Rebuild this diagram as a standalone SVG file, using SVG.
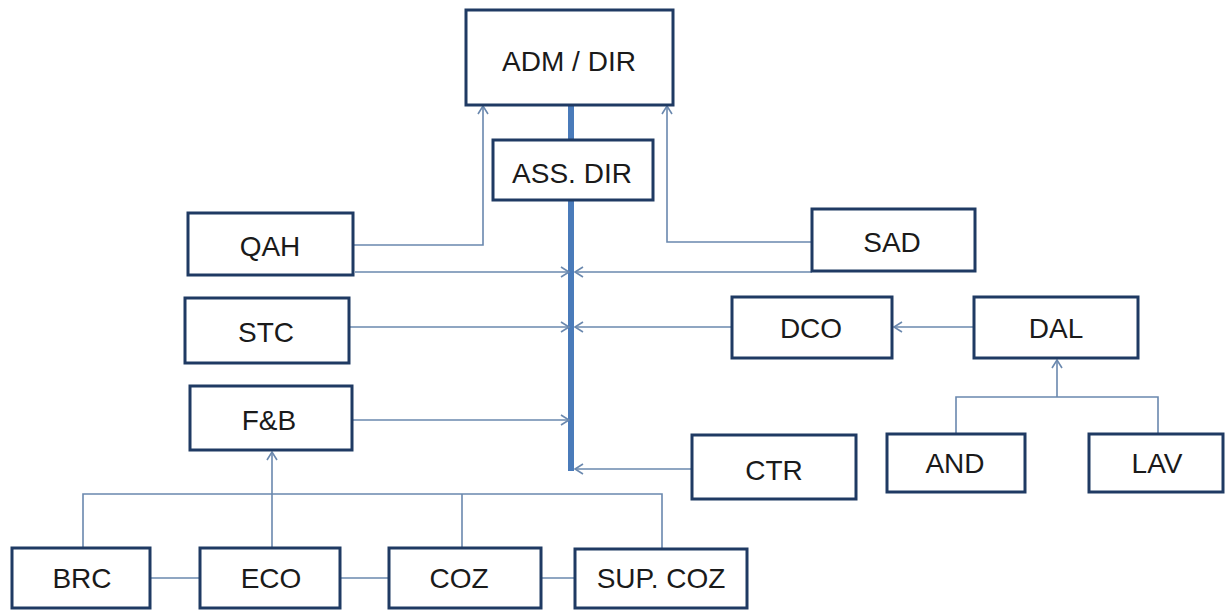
<svg xmlns="http://www.w3.org/2000/svg" width="1227" height="610" viewBox="0 0 1227 610">
<style>
.box{fill:#fff;stroke:#1F3A63;stroke-width:3}
.lbl{font-family:"Liberation Sans",Arial,sans-serif;font-size:28px;fill:#1a1a1a;text-anchor:middle}
.con{fill:none;stroke:#6A88AE;stroke-width:1.6}
.spine{stroke:#4A7BBA;stroke-width:6;fill:none}
</style>
<defs>
<marker id="arr" markerUnits="userSpaceOnUse" markerWidth="12" markerHeight="14" refX="9" refY="6" orient="auto" viewBox="0 0 12 12">
<path d="M1,1 L9,6 L1,11" fill="none" stroke="#6A88AE" stroke-width="1.6"/>
</marker>
</defs>
<rect width="1227" height="610" fill="#fff"/>
<g id="connectors">
<line class="spine" x1="571" y1="105" x2="571" y2="471"/>
<polyline class="con" points="353,245 483,245 483,106" marker-end="url(#arr)"/>
<polyline class="con" points="812,242 667,242 667,106" marker-end="url(#arr)"/>
<line class="con" x1="355" y1="272" x2="569" y2="272" marker-end="url(#arr)"/>
<line class="con" x1="812" y1="272" x2="575" y2="272" marker-end="url(#arr)"/>
<line class="con" x1="349" y1="327" x2="569" y2="327" marker-end="url(#arr)"/>
<line class="con" x1="732" y1="327" x2="575" y2="327" marker-end="url(#arr)"/>
<line class="con" x1="974" y1="327" x2="894" y2="327" marker-end="url(#arr)"/>
<line class="con" x1="352" y1="420" x2="569" y2="420" marker-end="url(#arr)"/>
<line class="con" x1="692" y1="469" x2="575" y2="469" marker-end="url(#arr)"/>
<path class="con" d="M956,434 V397 H1158 V434"/>
<line class="con" x1="1057" y1="397" x2="1057" y2="360" marker-end="url(#arr)"/>
<path class="con" d="M83,548 V494 H662 V549"/>
<line class="con" x1="462" y1="494" x2="462" y2="548"/>
<line class="con" x1="272" y1="548" x2="272" y2="452" marker-end="url(#arr)"/>
<line class="con" x1="150" y1="578" x2="200" y2="578"/>
<line class="con" x1="340" y1="578" x2="389" y2="578"/>
<line class="con" x1="541" y1="578" x2="575" y2="578"/>
</g>
<g id="adm"><rect class="box" x="466" y="10" width="207" height="95"/><text class="lbl" x="569" y="71">ADM / DIR</text></g>
<g id="assdir"><rect class="box" x="493" y="140" width="160" height="60"/><text class="lbl" x="572" y="183">ASS. DIR</text></g>
<g id="qah"><rect class="box" x="188" y="213" width="165" height="62"/><text class="lbl" x="270" y="256">QAH</text></g>
<g id="stc"><rect class="box" x="185" y="298" width="164" height="65"/><text class="lbl" x="266" y="342">STC</text></g>
<g id="fb"><rect class="box" x="190" y="386" width="162" height="64"/><text class="lbl" x="269" y="430">F&amp;B</text></g>
<g id="sad"><rect class="box" x="812" y="209" width="163" height="62"/><text class="lbl" x="892" y="252">SAD</text></g>
<g id="dco"><rect class="box" x="732" y="297" width="160" height="61"/><text class="lbl" x="811" y="338">DCO</text></g>
<g id="dal"><rect class="box" x="974" y="297" width="164" height="61"/><text class="lbl" x="1056" y="338">DAL</text></g>
<g id="and"><rect class="box" x="887" y="434" width="138" height="58"/><text class="lbl" x="955" y="473">AND</text></g>
<g id="lav"><rect class="box" x="1089" y="434" width="134" height="58"/><text class="lbl" x="1157" y="473">LAV</text></g>
<g id="ctr"><rect class="box" x="692" y="435" width="164" height="64"/><text class="lbl" x="774" y="480">CTR</text></g>
<g id="brc"><rect class="box" x="12" y="548" width="138" height="60"/><text class="lbl" x="82" y="588">BRC</text></g>
<g id="eco"><rect class="box" x="200" y="548" width="140" height="60"/><text class="lbl" x="271" y="588">ECO</text></g>
<g id="coz"><rect class="box" x="389" y="548" width="152" height="60"/><text class="lbl" x="459" y="588">COZ</text></g>
<g id="supcoz"><rect class="box" x="575" y="549" width="172" height="59"/><text class="lbl" x="661" y="588">SUP. COZ</text></g>
</svg>
